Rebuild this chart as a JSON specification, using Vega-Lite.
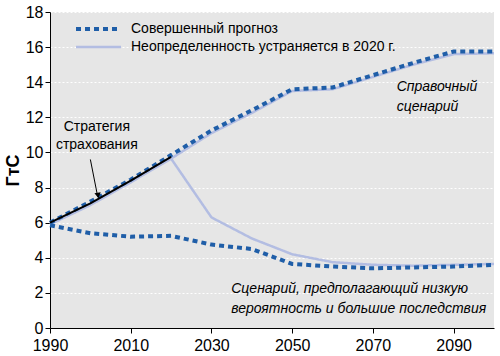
{
  "$schema": "https://vega.github.io/schema/vega-lite/v6.json",
  "width": 444,
  "height": 316,
  "autosize": "none",
  "padding": {"left": 50, "top": 12, "right": 6, "bottom": 28},
  "background": "white",
  "config": {
    "view": {"fill": "#e6e6e6", "stroke": null},
    "font": "Liberation Sans",
    "axis": {"labelFont": "Liberation Sans", "titleFont": "Liberation Sans"}
  },
  "datasets": {
    "lines": [
      {"year": 1990, "value": 5.9, "scenario": "Неопределенность устраняется в 2020 г.", "branch": "uh"},
      {"year": 2000, "value": 7.0, "scenario": "Неопределенность устраняется в 2020 г.", "branch": "uh"},
      {"year": 2010, "value": 8.3, "scenario": "Неопределенность устраняется в 2020 г.", "branch": "uh"},
      {"year": 2020, "value": 9.65, "scenario": "Неопределенность устраняется в 2020 г.", "branch": "uh"},
      {"year": 2030, "value": 11.1, "scenario": "Неопределенность устраняется в 2020 г.", "branch": "uh"},
      {"year": 2040, "value": 12.25, "scenario": "Неопределенность устраняется в 2020 г.", "branch": "uh"},
      {"year": 2050, "value": 13.5, "scenario": "Неопределенность устраняется в 2020 г.", "branch": "uh"},
      {"year": 2060, "value": 13.6, "scenario": "Неопределенность устраняется в 2020 г.", "branch": "uh"},
      {"year": 2070, "value": 14.3, "scenario": "Неопределенность устраняется в 2020 г.", "branch": "uh"},
      {"year": 2080, "value": 15.0, "scenario": "Неопределенность устраняется в 2020 г.", "branch": "uh"},
      {"year": 2090, "value": 15.6, "scenario": "Неопределенность устраняется в 2020 г.", "branch": "uh"},
      {"year": 2100, "value": 15.65, "scenario": "Неопределенность устраняется в 2020 г.", "branch": "uh"},
      {"year": 2020, "value": 9.65, "scenario": "Неопределенность устраняется в 2020 г.", "branch": "ul"},
      {"year": 2030, "value": 6.3, "scenario": "Неопределенность устраняется в 2020 г.", "branch": "ul"},
      {"year": 2040, "value": 5.1, "scenario": "Неопределенность устраняется в 2020 г.", "branch": "ul"},
      {"year": 2050, "value": 4.2, "scenario": "Неопределенность устраняется в 2020 г.", "branch": "ul"},
      {"year": 2060, "value": 3.75, "scenario": "Неопределенность устраняется в 2020 г.", "branch": "ul"},
      {"year": 2070, "value": 3.6, "scenario": "Неопределенность устраняется в 2020 г.", "branch": "ul"},
      {"year": 2080, "value": 3.55, "scenario": "Неопределенность устраняется в 2020 г.", "branch": "ul"},
      {"year": 2090, "value": 3.6, "scenario": "Неопределенность устраняется в 2020 г.", "branch": "ul"},
      {"year": 2100, "value": 3.65, "scenario": "Неопределенность устраняется в 2020 г.", "branch": "ul"},
      {"year": 1990, "value": 6.0, "scenario": "Совершенный прогноз", "branch": "ph"},
      {"year": 2000, "value": 7.2, "scenario": "Совершенный прогноз", "branch": "ph"},
      {"year": 2010, "value": 8.45, "scenario": "Совершенный прогноз", "branch": "ph"},
      {"year": 2020, "value": 9.85, "scenario": "Совершенный прогноз", "branch": "ph"},
      {"year": 2030, "value": 11.25, "scenario": "Совершенный прогноз", "branch": "ph"},
      {"year": 2040, "value": 12.4, "scenario": "Совершенный прогноз", "branch": "ph"},
      {"year": 2050, "value": 13.6, "scenario": "Совершенный прогноз", "branch": "ph"},
      {"year": 2060, "value": 13.7, "scenario": "Совершенный прогноз", "branch": "ph"},
      {"year": 2070, "value": 14.4, "scenario": "Совершенный прогноз", "branch": "ph"},
      {"year": 2080, "value": 15.1, "scenario": "Совершенный прогноз", "branch": "ph"},
      {"year": 2090, "value": 15.75, "scenario": "Совершенный прогноз", "branch": "ph"},
      {"year": 2100, "value": 15.75, "scenario": "Совершенный прогноз", "branch": "ph"},
      {"year": 1990, "value": 5.85, "scenario": "Совершенный прогноз", "branch": "pl"},
      {"year": 2000, "value": 5.4, "scenario": "Совершенный прогноз", "branch": "pl"},
      {"year": 2010, "value": 5.2, "scenario": "Совершенный прогноз", "branch": "pl"},
      {"year": 2020, "value": 5.25, "scenario": "Совершенный прогноз", "branch": "pl"},
      {"year": 2030, "value": 4.75, "scenario": "Совершенный прогноз", "branch": "pl"},
      {"year": 2040, "value": 4.5, "scenario": "Совершенный прогноз", "branch": "pl"},
      {"year": 2050, "value": 3.65, "scenario": "Совершенный прогноз", "branch": "pl"},
      {"year": 2060, "value": 3.5, "scenario": "Совершенный прогноз", "branch": "pl"},
      {"year": 2070, "value": 3.4, "scenario": "Совершенный прогноз", "branch": "pl"},
      {"year": 2080, "value": 3.45, "scenario": "Совершенный прогноз", "branch": "pl"},
      {"year": 2090, "value": 3.5, "scenario": "Совершенный прогноз", "branch": "pl"},
      {"year": 2100, "value": 3.6, "scenario": "Совершенный прогноз", "branch": "pl"}
    ],
    "hedge": [
      {"year": 1990, "value": 6.0},
      {"year": 2000, "value": 7.1},
      {"year": 2010, "value": 8.4},
      {"year": 2020, "value": 9.75}
    ],
    "labels": [
      {"year": 2001.6, "value": 11.45, "text": "Стратегия", "kind": "c"},
      {"year": 2001.6, "value": 10.42, "text": "страхования", "kind": "c"},
      {"year": 2075.9, "value": 13.75, "text": "Справочный", "kind": "i"},
      {"year": 2075.9, "value": 12.6, "text": "сценарий", "kind": "i"},
      {"year": 2034.9, "value": 2.22, "text": "Сценарий, предполагающий низкую", "kind": "i"},
      {"year": 2034.9, "value": 1.08, "text": "вероятность и большие последствия", "kind": "i"}
    ],
    "arrow": [
      {"year": 2000.0, "value": 9.6, "year2": 2001.8, "value2": 7.5}
    ],
    "arrowhead": [
      {"year": 2001.9, "value": 7.55}
    ]
  },
  "encoding": {
    "x": {"field": "year", "type": "quantitative", "scale": {"domain": [1990, 2100], "nice": false, "zero": false},
      "axis": {"values": [1990, 2010, 2030, 2050, 2070, 2090], "format": "d", "title": null, "grid": false, "labelOverlap": false,
        "labelFontSize": 16, "labelColor": "black", "domainColor": "black", "tickColor": "black", "tickSize": 5, "labelPadding": 4, "labelFlush": false}},
    "y": {"field": "value", "type": "quantitative", "scale": {"domain": [0, 18], "nice": false, "zero": true},
      "axis": {"values": [0, 2, 4, 6, 8, 10, 12, 14, 16, 18], "tickCount": 10, "title": "ГтС", "titleFontSize": 18, "titleFontWeight": "bold", "titleColor": "black", "titlePadding": 3,
        "grid": true, "gridColor": "white", "gridDash": [2, 2], "gridWidth": 1, "labelOverlap": false, "labelFlush": false,
        "labelFontSize": 16, "labelColor": "black", "domainColor": "black", "tickColor": "black", "tickSize": 5, "labelPadding": 2}}
  },
  "layer": [
    {
      "data": {"name": "lines"},
      "transform": [{"filter": "datum.scenario !== 'Совершенный прогноз'"}],
      "mark": {"type": "line", "strokeCap": "butt"},
      "encoding": {
        "detail": {"field": "branch"},
        "color": {"field": "scenario", "type": "nominal",
          "scale": {"domain": ["Совершенный прогноз", "Неопределенность устраняется в 2020 г."], "range": ["#1f5ea8", "#b3bde2"]},
          "legend": {"orient": "none", "legendX": 24, "legendY": 10, "title": null, "symbolType": "stroke", "symbolSize": 2025, "clipHeight": 14,
            "labelFontSize": 14, "labelColor": "black", "labelOffset": 8, "rowPadding": 4, "labelLimit": 400}},
        "strokeDash": {"field": "scenario", "type": "nominal",
          "scale": {"domain": ["Совершенный прогноз", "Неопределенность устраняется в 2020 г."], "range": [[5, 4], [1, 0]]}},
        "strokeWidth": {"field": "scenario", "type": "nominal",
          "scale": {"domain": ["Совершенный прогноз", "Неопределенность устраняется в 2020 г."], "range": [4, 2.5]}}
      }
    },
    {
      "data": {"name": "lines"},
      "transform": [{"filter": "datum.scenario === 'Совершенный прогноз'"}],
      "mark": {"type": "line", "strokeCap": "butt"},
      "encoding": {
        "detail": {"field": "branch"},
        "color": {"field": "scenario", "type": "nominal"},
        "strokeDash": {"field": "scenario", "type": "nominal"},
        "strokeWidth": {"field": "scenario", "type": "nominal"}
      }
    },
    {
      "data": {"name": "hedge"},
      "mark": {"type": "line", "color": "black", "strokeWidth": 2}
    },
    {
      "data": {"name": "arrow"},
      "mark": {"type": "rule", "color": "black", "strokeWidth": 1},
      "encoding": {
        "x2": {"field": "year2"},
        "y2": {"field": "value2"}
      }
    },
    {
      "data": {"name": "arrowhead"},
      "mark": {"type": "point", "shape": "triangle-down", "filled": true, "color": "black", "size": 40, "opacity": 1, "angle": 350}
    },
    {
      "data": {"name": "labels"},
      "transform": [{"filter": "datum.kind === 'c'"}],
      "mark": {"type": "text", "align": "center", "baseline": "middle", "fontSize": 14, "color": "black"},
      "encoding": {
        "text": {"field": "text"}
      }
    },
    {
      "data": {"name": "labels"},
      "transform": [{"filter": "datum.kind === 'i'"}],
      "mark": {"type": "text", "align": "left", "baseline": "middle", "fontSize": 14, "fontStyle": "italic", "color": "black"},
      "encoding": {
        "text": {"field": "text"}
      }
    }
  ]
}
